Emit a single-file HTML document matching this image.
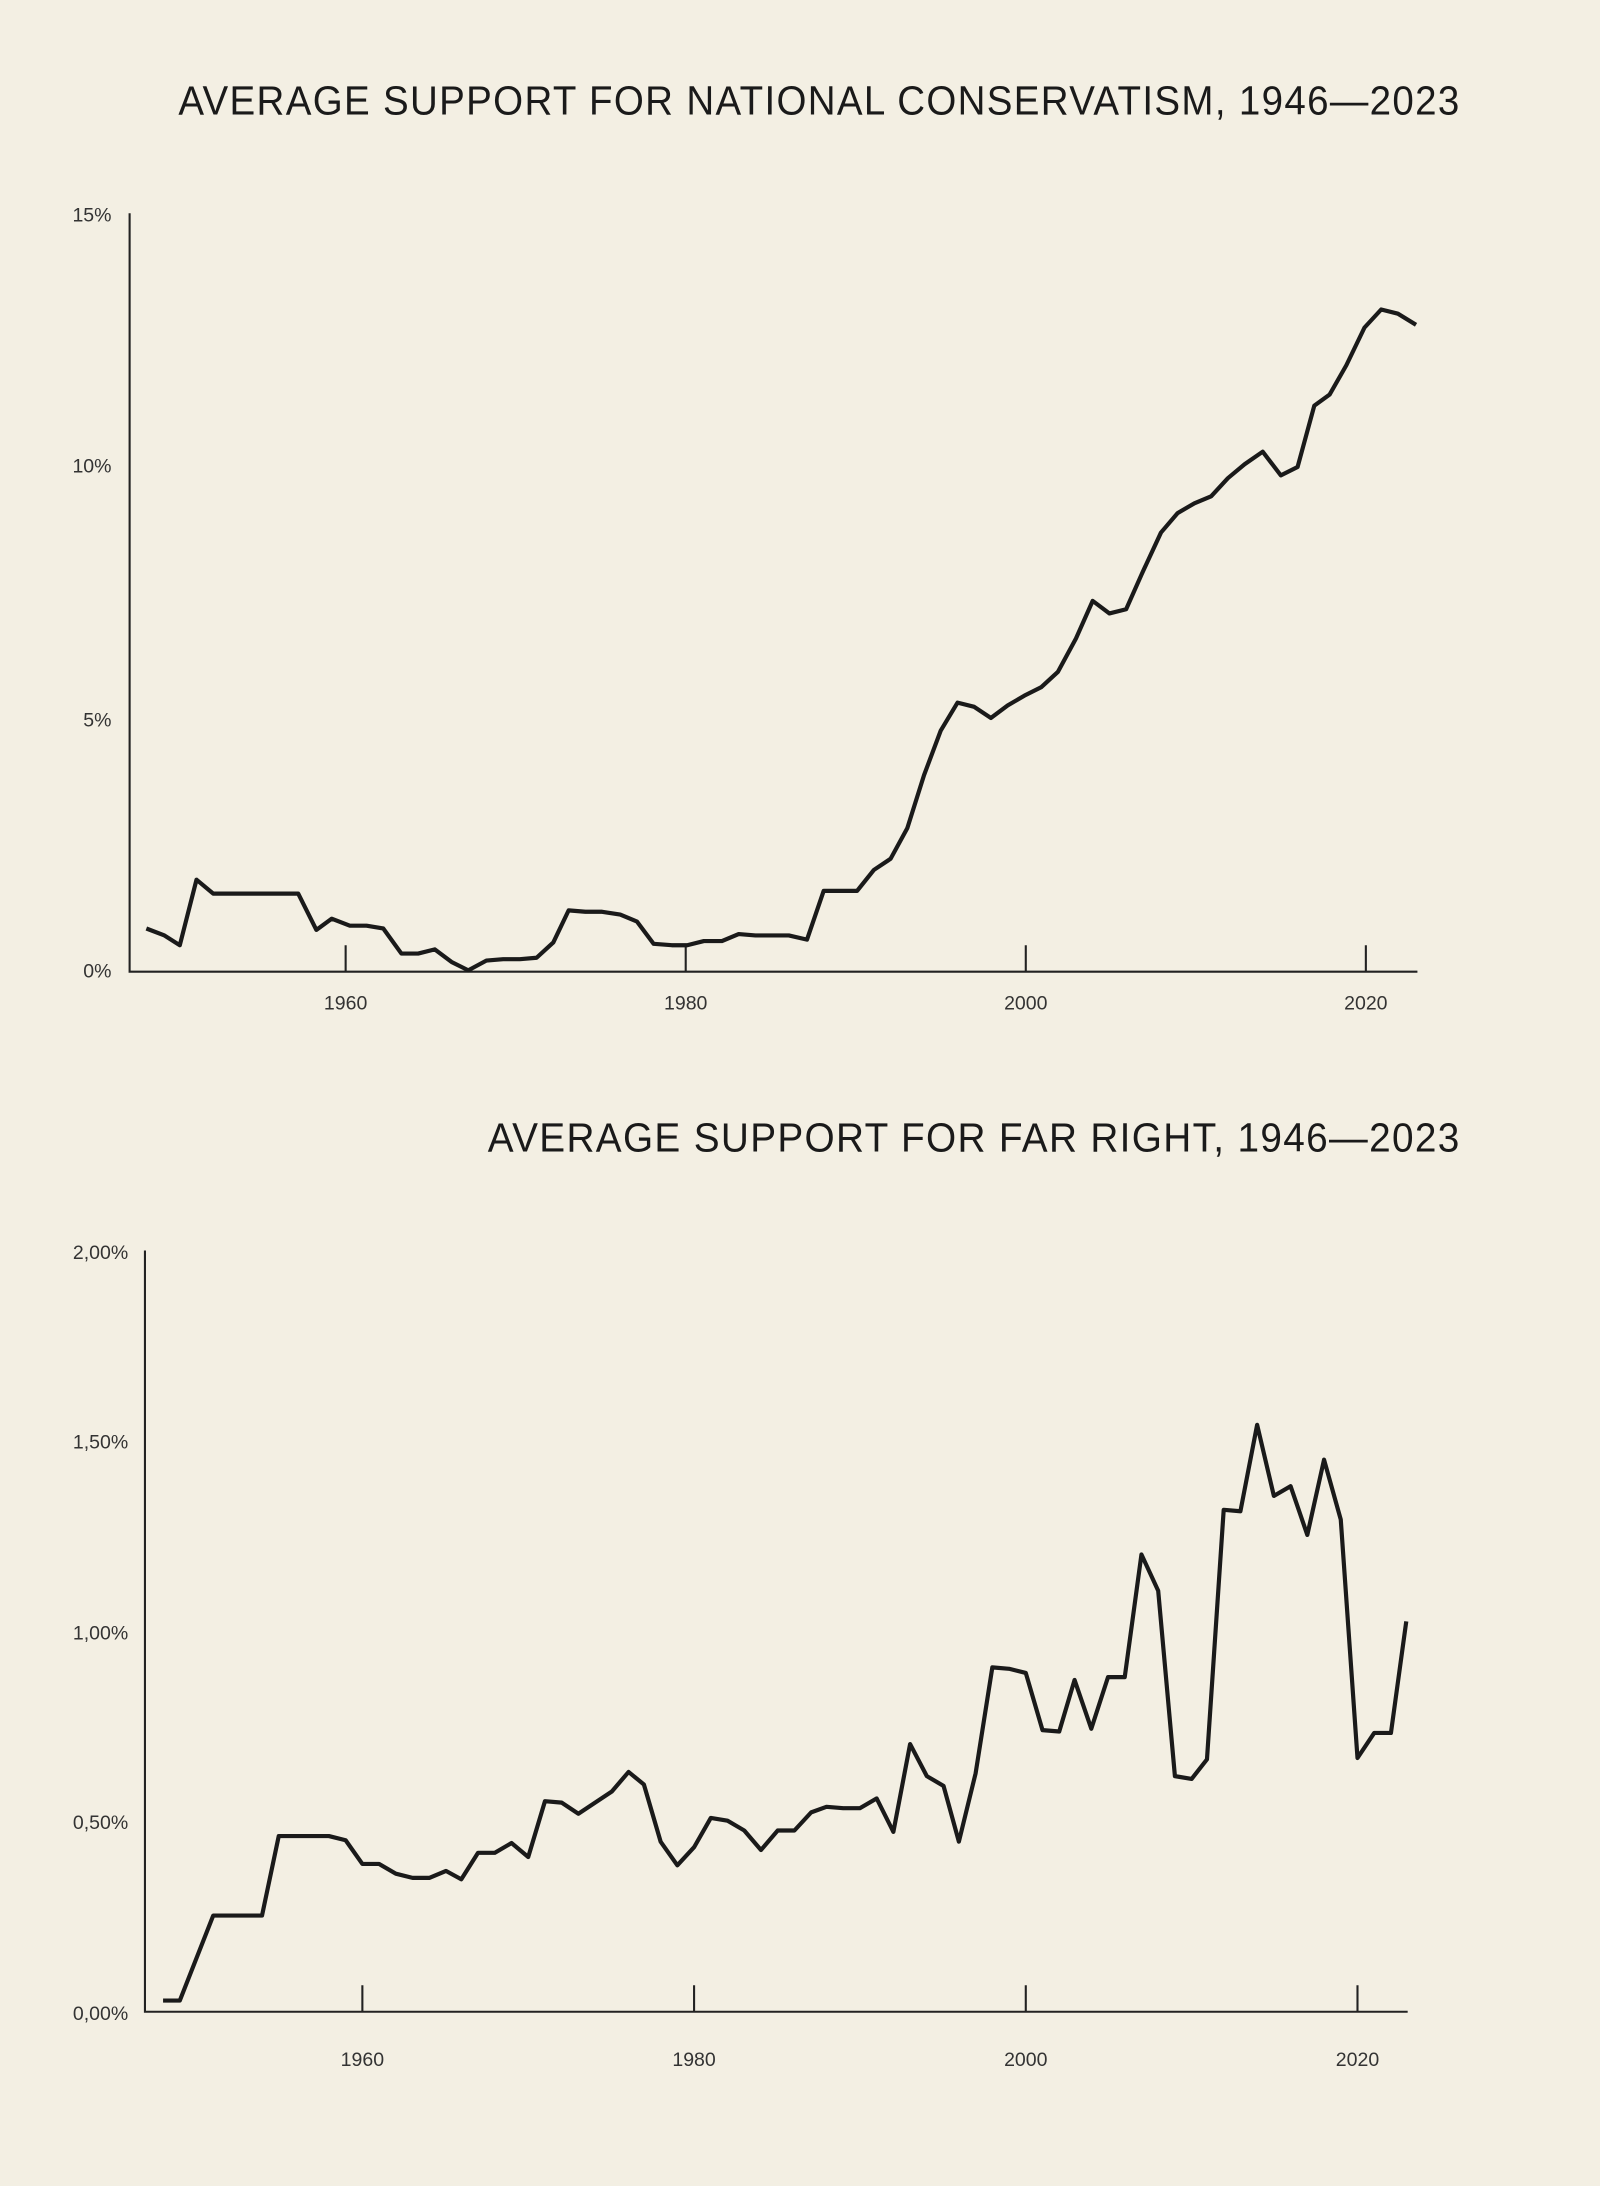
<!DOCTYPE html>
<html><head><meta charset="utf-8"><style>
html,body{margin:0;padding:0;background:#f3efe3;}
svg{display:block}
text{font-family:"Liberation Sans",sans-serif;fill:#222}
.t{font-size:29px;font-weight:normal;letter-spacing:1px;fill:#1a1a1a}
.tk{font-size:14px;fill:#333}
</style></head><body>
<svg width="1600" height="2186" viewBox="0 0 1148 1568" preserveAspectRatio="none" xmlns="http://www.w3.org/2000/svg">
<rect width="1148" height="1568" fill="#f3efe3"/>
<text class="t" x="128" y="82" textLength="920" lengthAdjust="spacingAndGlyphs">AVERAGE SUPPORT FOR NATIONAL CONSERVATISM, 1946—2023</text>
<g stroke="#222" stroke-width="1.5" fill="none">
<path d="M93 153V697H1017M248 697V678M492 697V678M736 697V678M980 697V678"/>
</g>
<text class="tk" x="80" y="159" text-anchor="end">15%</text>
<text class="tk" x="80" y="339" text-anchor="end">10%</text>
<text class="tk" x="80" y="521" text-anchor="end">5%</text>
<text class="tk" x="80" y="701" text-anchor="end">0%</text>
<text class="tk" x="248" y="724" text-anchor="middle">1960</text>
<text class="tk" x="492" y="724" text-anchor="middle">1980</text>
<text class="tk" x="736" y="724" text-anchor="middle">2000</text>
<text class="tk" x="980" y="724" text-anchor="middle">2020</text>
<polyline fill="none" stroke="#1a1a1a" stroke-width="3" stroke-linejoin="round" points="105,666 118,671 129,678 141,631 153,641 190,641 214,641 227,667 238,659 251,664 263,664 275,666 288,684 300,684 312,681 324,690 336,696 349,689 361,688 373,688 385,687 397,676 408,653 420,654 432,654 445,656 457,661 469,677 482,678 493,678 505,675 518,675 530,670 542,671 554,671 566,671 579,674 591,639 615,639 627,624 639,616 651,594 663,556 675,524 687,504 699,507 711,515 723,506 735,499 747,493 759,482 772,458 784,431 796,440 808,437 820,410 833,382 845,368 857,361 869,356 881,343 893,333 906,324 919,341 931,335 943,291 954,283 966,262 979,235 991,222 1003,225 1016,233"/>

<text class="t" x="350" y="826" textLength="698" lengthAdjust="spacingAndGlyphs">AVERAGE SUPPORT FOR FAR RIGHT, 1946—2023</text>
<g stroke="#222" stroke-width="1.5" fill="none">
<path d="M104 897V1443H1010M260 1443V1424M498 1443V1424M736 1443V1424M974 1443V1424"/>
</g>
<text class="tk" x="92" y="903" text-anchor="end">2,00%</text>
<text class="tk" x="92" y="1039" text-anchor="end">1,50%</text>
<text class="tk" x="92" y="1176" text-anchor="end">1,00%</text>
<text class="tk" x="92" y="1312" text-anchor="end">0,50%</text>
<text class="tk" x="92" y="1449" text-anchor="end">0,00%</text>
<text class="tk" x="260" y="1482" text-anchor="middle">1960</text>
<text class="tk" x="498" y="1482" text-anchor="middle">1980</text>
<text class="tk" x="736" y="1482" text-anchor="middle">2000</text>
<text class="tk" x="974" y="1482" text-anchor="middle">2020</text>
<polyline fill="none" stroke="#1a1a1a" stroke-width="3" stroke-linejoin="round" points="117,1435 129,1435 153,1374 188,1374 200,1317 236,1317 248,1320 260,1337 272,1337 284,1344 296,1347 308,1347 320,1342 331,1348 343,1329 355,1329 367,1322 379,1332 391,1292 403,1293 415,1301 427,1293 439,1285 451,1271 462,1280 474,1321 486,1338 498,1325 510,1304 522,1306 534,1313 546,1327 558,1313 570,1313 582,1300 593,1296 605,1297 617,1297 629,1290 641,1314 653,1251 665,1274 677,1281 688,1321 700,1272 712,1196 724,1197 736,1200 748,1241 760,1242 771,1205 783,1240 795,1203 807,1203 819,1115 831,1141 843,1274 855,1276 866,1262 878,1083 890,1084 902,1022 914,1073 926,1066 938,1101 950,1047 962,1090 974,1261 986,1243 998,1243 1009,1163"/>
</svg>
</body></html>
